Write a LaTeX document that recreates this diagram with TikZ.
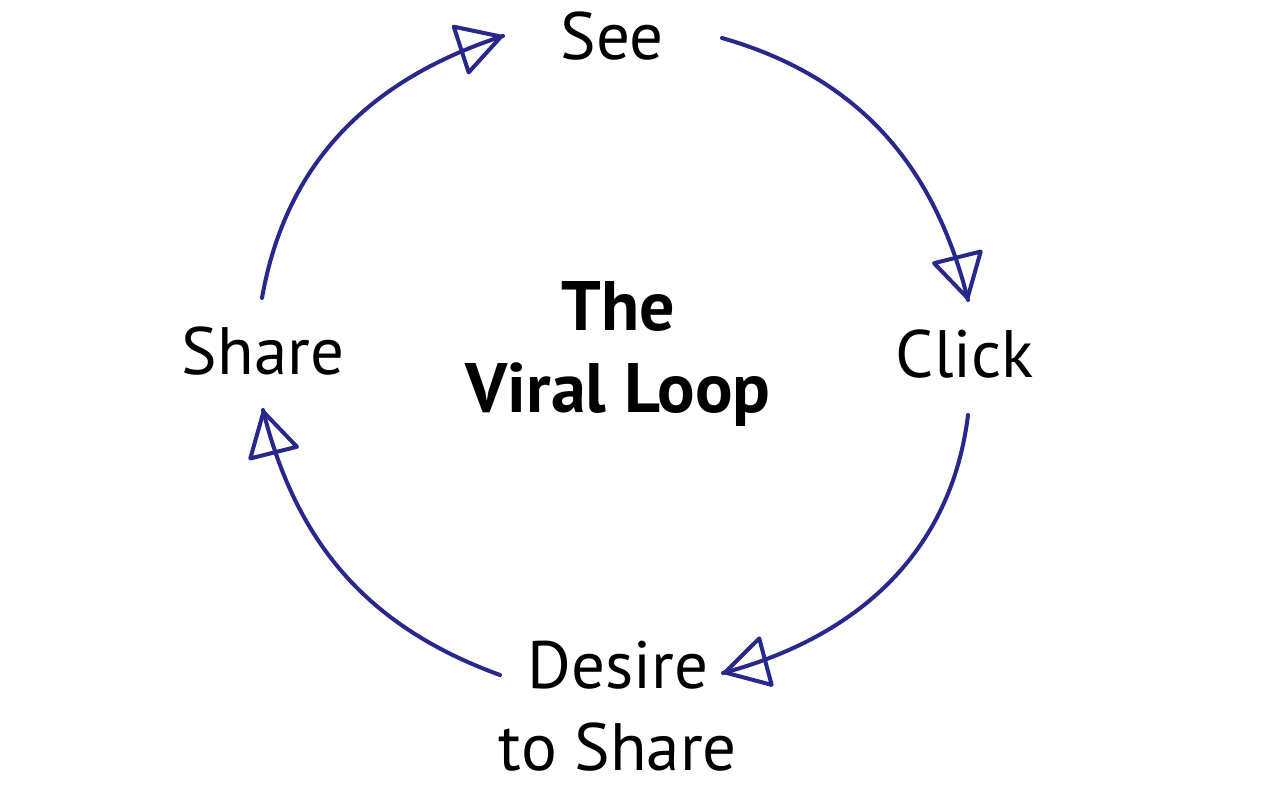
\documentclass[tikz,border=0pt]{standalone}
\usepackage{fontspec}
\setmainfont{PT Sans}
\usetikzlibrary{arrows.meta,decorations.markings}
\definecolor{loopblue}{RGB}{40,40,140}
\begin{document}
\begin{tikzpicture}[x=0.5pt,y=0.5pt,
  lbl/.style={inner sep=0pt, align=center, font=\fontsize{33.5}{41}\selectfont, text=black},
  ttl/.style={lbl, font=\fontsize{35}{41}\selectfont\bfseries},
  loopline/.style={draw=loopblue, line width=2pt, line cap=round, line join=round,
    decoration={markings, mark=at position 1 with {\arrow[loopblue,line width=2pt]{Triangle[open,length=24pt,width=27pt,round]}}},
    postaction={decorate}}]
\useasboundingbox (0,0) rectangle (1280,787);
\fill[white] (0,0) rectangle (1280,787);

\node[lbl, anchor=base] (see) at (612,727) {See};
\node[lbl, anchor=base] (click) at (965,409) {Click};
\node[lbl, anchor=base] (share) at (263,412) {Share};
\node[lbl] (desire) at (618,81) {Desire\\to Share};
\node[ttl] (title) at (618,433) {The\\Viral Loop};

\coordinate (share-out) at (262,489);
\coordinate (see-in) at (503,751);
\coordinate (see-out) at (722,749);
\coordinate (click-in) at (968,487);
\coordinate (click-out) at (968,372);
\coordinate (desire-in) at (723,114);
\coordinate (desire-out) at (500,112);
\coordinate (share-in) at (263,377);

\foreach \a/\b/\o/\i in {share-out/see-in/80/198, see-out/click-in/-16/104,
  click-out/desire-in/-97/15, desire-out/share-in/160/-76}{
  \draw[loopline] (\a) to[out=\o,in=\i] (\b);
}
\end{tikzpicture}
\end{document}
